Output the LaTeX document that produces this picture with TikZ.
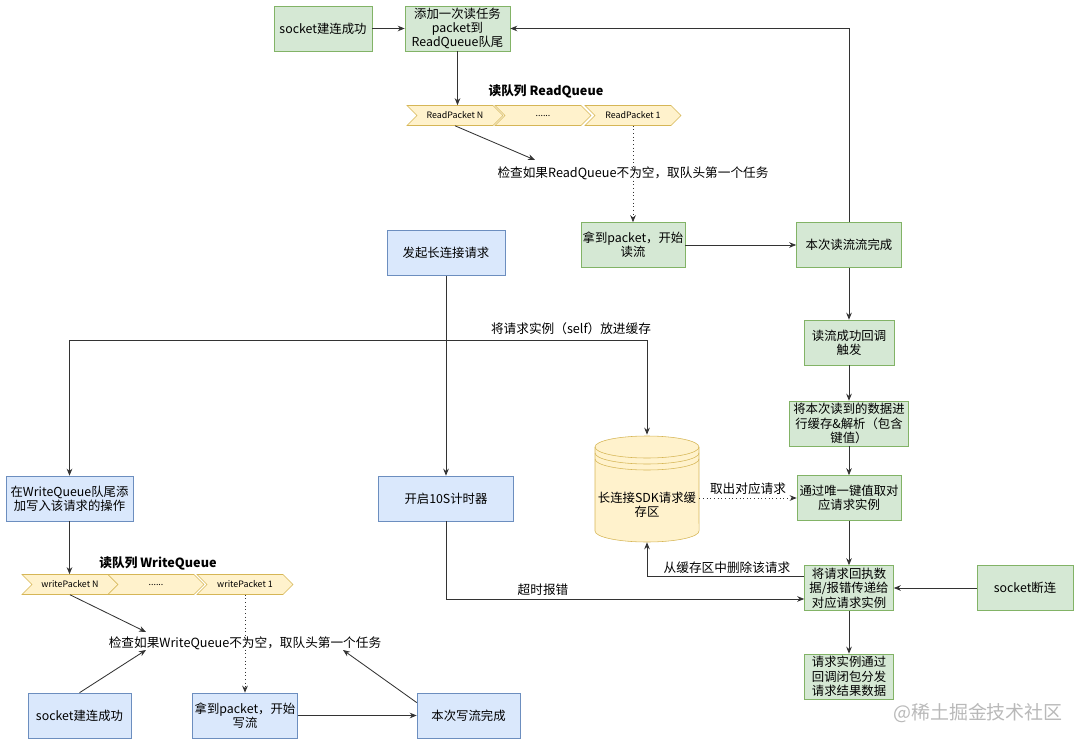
\documentclass[tikz,border=0pt]{standalone}
\usepackage{fontspec}
\setmainfont{Noto Sans CJK SC}
\usetikzlibrary{arrows.meta,shapes.symbols}

\definecolor{grnfill}{HTML}{D5E8D4}
\definecolor{grnline}{HTML}{82B366}
\definecolor{blufill}{HTML}{DAE8FC}
\definecolor{bluline}{HTML}{6C8EBF}
\definecolor{ylwfill}{HTML}{FFF2CC}
\definecolor{ylwline}{HTML}{D6B656}

\tikzset{
  box/.style={draw, align=center, minimum height=1.125cm, inner sep=1pt,
    font=\fontsize{8.8}{10.2}\selectfont},
  grn/.style={box, fill=grnfill, draw=grnline},
  blu/.style={box, fill=blufill, draw=bluline},
  pkt/.style={signal, signal to=east, signal from=west, fill=ylwfill, draw=ylwline,
    minimum width=2.4cm, minimum height=0.5cm, inner sep=0pt,
    font=\fontsize{6.3}{7}\selectfont},
  lbl/.style={font=\fontsize{9}{10}\selectfont, inner sep=1pt},
  qlbl/.style={font=\fontsize{9}{10}\selectfont\bfseries, inner sep=1pt},
  arr/.style={draw=black!80, line width=0.6pt, -{Stealth[length=5pt,width=4pt]}},
  dotarr/.style={arr, dotted},
}

\begin{document}
\begin{tikzpicture}[x=0.025cm, y=-0.025cm]
  \useasboundingbox (0,0) rectangle (1080,743);

  % read side
  \node[grn, minimum width=2.45cm] (sockR) at (323,28.5) {socket建连成功};
  \node[grn, minimum width=2.625cm] (addR) at (457.5,28.5) {添加一次读任务\\packet到\\ReadQueue队尾};
  \node[qlbl] (rdLabel) at (546,91) {读队列 ReadQueue};
  \node[pkt] (rdN) at (455,115.5) {ReadPacket N};
  \node[pkt] (rdMid) at (543,115.5) {......};
  \node[pkt] (rd1) at (633,115.5) {ReadPacket 1};
  \node[lbl] (rdCheck) at (633,173) {检查如果ReadQueue不为空，取队头第一个任务};
  \coordinate (rdIn) at (535,160);
  \node[grn, minimum width=2.6cm] (getR) at (633,245) {拿到packet，开始\\读流};
  \node[grn, minimum width=2.625cm] (doneR) at (849,245) {本次读流流完成};
  \node[grn, minimum width=2.25cm] (cbR) at (849,342.5) {读流成功回调\\触发};
  \node[grn, minimum width=2.975cm] (parse) at (849,423.5) {将本次读到的数据进\\行缓存\&解析（包含\\键值）};
  \node[grn, minimum width=2.6cm] (lookup) at (849,498) {通过唯一键值取对\\应请求实例};
  \node[grn, minimum width=2.225cm] (deliver) at (849,588) {将请求回执数\\据/报错传递给\\对应请求实例};
  \node[grn, minimum width=2.225cm] (dispatch) at (849,676.5) {请求实例通过\\回调闭包分发\\请求结果数据};
  \node[grn, minimum width=2.4cm] (drop) at (1025,588) {socket断连};

  % cache
  \draw[fill=ylwfill, draw=ylwline] (595,447) -- (595,531)
    arc[start angle=180, end angle=360, x radius=1.3cm, y radius=0.275cm] -- (699,447)
    arc[start angle=0, end angle=180, x radius=1.3cm, y radius=0.275cm] -- cycle;
  \draw[ylwline] (595,447) arc[start angle=180, end angle=360, x radius=1.3cm, y radius=0.275cm];
  \draw[ylwline] (595,453) arc[start angle=180, end angle=360, x radius=1.3cm, y radius=0.275cm];
  \draw[ylwline] (595,459) arc[start angle=180, end angle=360, x radius=1.3cm, y radius=0.275cm];
  \node[minimum width=2.6cm, minimum height=2.675cm, inner sep=0pt] (cache) at (647,488.5) {};
  \node[box, draw=none] (cacheTxt) at (647,505) {长连接SDK请求缓\\存区};

  % request side
  \node[blu, minimum width=2.95cm] (start) at (446,253) {发起长连接请求};
  \coordinate (split) at (446,340);
  \node[blu, minimum width=3.375cm] (timer) at (446,498.5) {开启10S计时器};
  \node[blu, minimum width=3.175cm] (wq) at (69.5,498.5) {在WriteQueue队尾添\\加写入该请求的操作};

  % write side
  \node[qlbl] (wrLabel) at (158,563) {读队列 WriteQueue};
  \node[pkt] (wrN) at (70,584.5) {writePacket N};
  \node[pkt] (wrMid) at (156,584.5) {......};
  \node[pkt] (wr1) at (245,584.5) {writePacket 1};
  \node[lbl] (wrCheck) at (245,643) {检查如果WriteQueue不为空，取队头第一个任务};
  \coordinate (wrIn) at (146,632);
  \coordinate (wrUp) at (146,650);
  \coordinate (wdIn) at (343,650);
  \node[blu, minimum width=2.575cm] (sockW) at (79.5,715.5) {socket建连成功};
  \node[blu, minimum width=2.625cm] (getW) at (245,715.5) {拿到packet，开始\\写流};
  \node[blu, minimum width=2.575cm] (doneW) at (468.5,715.5) {本次写流完成};

  % connectors
  \draw[arr] (sockR) -- (addR);
  \draw[arr] (doneR.north) |- (addR.east);
  \draw[arr] (addR.south) -- (addR.south |- rdN.north);
  \draw[arr] (rdN.south) -- (rdIn);
  \draw[dotarr] (rd1.south) -- (getR.north);
  \draw[arr] (getR) -- (doneR);
  \draw[arr] (doneR) -- (cbR);
  \draw[arr] (cbR) -- (parse);
  \draw[arr] (parse) -- (lookup);
  \draw[arr] (lookup) -- (deliver);
  \draw[arr] (deliver) -- (dispatch);
  \draw[arr] (drop) -- (deliver);
  \draw[dotarr] (cache.east |- lookup.west) -- node[lbl, above=1pt] (takeLbl) {取出对应请求} (lookup.west);
  \draw[arr] ([yshift=8.5pt]deliver.west) -| (cache.south);
  \node[lbl] (delLbl) at (727,568) {从缓存区中删除该请求};
  \draw[arr] (timer.south) |- ([yshift=-7.8pt]deliver.west);
  \node[lbl] (toLbl) at (543,590) {超时报错};
  \draw[arr] (start) -- (timer);
  \draw[arr] (split) -| (wq.north);
  \draw[arr] (split) -| (cache.north);
  \node[lbl] (putLbl) at (571,329) {将请求实例（self）放进缓存};
  \draw[arr] (wq.south) -- (wq.south |- wrN.north);
  \draw[arr] (wrN.south) -- (wrIn);
  \draw[arr] (sockW.north) -- (wrUp);
  \draw[dotarr] (wr1.south) -- (getW.north);
  \draw[arr] (getW) -- (doneW);
  \draw[arr] ([yshift=-7pt]doneW.north west) -- (wdIn);

  \node[font=\fontsize{13.5}{15}\selectfont, text=gray!55] (mark) at (978,713) {@稀土掘金技术社区};
\end{tikzpicture}
\end{document}
